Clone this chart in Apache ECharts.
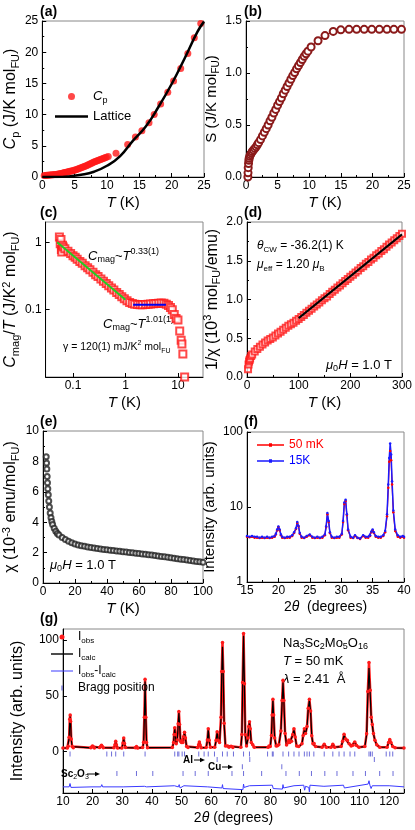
<!DOCTYPE html>
<html>
<head>
<meta charset="utf-8">
<script src="https://cdn.jsdelivr.net/npm/echarts@6.0.0/dist/echarts.min.js"></script>
<style>
html, body { margin: 0; padding: 0; background: #fff; }
#chart { width: 415px; height: 830px; }
</style>
</head>
<body>
<div id="chart"></div>
<script>
// ---------- data ----------
// (a) specific heat and lattice fit
const cpT = [0.3, 0.5, 0.7, 0.9, 1.1, 1.3, 1.5, 1.7, 1.9, 2.1, 2.3, 2.5, 2.7, 2.9, 3.1, 3.3, 3.5, 3.7, 3.9, 4.1,
    4.3, 4.5, 4.7, 4.9, 5.1, 5.3, 5.5, 5.7, 5.9, 6.1, 6.3, 6.5, 6.7, 6.9, 7.1, 7.3, 7.5, 7.7, 7.9, 8.1,
    8.3, 8.5, 8.7, 8.9, 9.1, 9.3, 9.5, 9.7, 9.9, 10.2,
    11.4, 13.2, 14.4, 15.4, 16.5, 17.3, 18.3, 19.4, 20.3, 21.4, 22.5, 23.5, 24.5]
const cpVal = [0.25, 0.26, 0.27, 0.29, 0.31, 0.33, 0.35, 0.37, 0.39, 0.42, 0.46, 0.5, 0.54, 0.58, 0.62, 0.67, 0.72, 0.77, 0.82, 0.87,
    0.92, 0.97, 1.02, 1.07, 1.13, 1.21, 1.29, 1.37, 1.45, 1.54, 1.62, 1.7, 1.78, 1.86, 1.95, 2.05, 2.15, 2.25, 2.35, 2.44,
    2.52, 2.6, 2.68, 2.76, 2.84, 2.92, 3.0, 3.08, 3.16, 3.28,
    3.8, 5.2, 6.4, 7.4, 8.7, 10.0, 11.7, 13.6, 15.4, 17.4, 19.8, 22.3, 24.6]
const latticeT = [0, 2, 4, 6, 8, 10, 12, 14, 16, 18, 20, 22, 24, 25]
const latticeVal = [0, 0.01, 0.1, 0.35, 0.85, 1.8, 3.3, 5.8, 8.1, 11.3, 14.9, 19.0, 23.3, 24.9]

// (b) entropy
const sT = [0.3, 0.32, 0.35, 0.4, 0.45, 0.5, 0.6, 0.7, 0.85, 1.0, 1.2, 1.4, 1.6, 1.8, 2.0, 2.3, 2.6, 2.9, 3.2, 3.5,
    3.8, 4.1, 4.4, 4.7, 5.0, 5.3, 5.6, 5.9, 6.2, 6.5, 6.8, 7.1, 7.4, 7.7, 8.0, 8.3, 8.6, 8.9, 9.2, 9.5,
    9.8, 10.3, 11.4, 12.5, 13.8, 15.0, 16.3, 17.5, 18.7, 19.9, 21.1, 22.3, 23.4, 24.6]
const sVal = [0.0, 0.04, 0.09, 0.13, 0.16, 0.18, 0.2, 0.215, 0.23, 0.245, 0.26, 0.275, 0.29, 0.31, 0.33, 0.36, 0.395, 0.43, 0.465, 0.5,
    0.54, 0.575, 0.615, 0.65, 0.69, 0.725, 0.76, 0.8, 0.835, 0.87, 0.905, 0.94, 0.975, 1.005, 1.04, 1.07, 1.1, 1.13, 1.16, 1.185,
    1.21, 1.25, 1.31, 1.36, 1.40, 1.415, 1.42, 1.42, 1.42, 1.42, 1.42, 1.42, 1.42, 1.42]

// (c) magnetic specific heat / T, log-log
const cmT = [0.055, 0.057, 0.059, 0.06, 0.061, 0.063, 0.065, 0.07, 0.08, 0.09, 0.1, 0.11, 0.12, 0.135, 0.15, 0.17,
    0.19, 0.21, 0.24, 0.27, 0.3, 0.34, 0.38, 0.43, 0.48, 0.54, 0.6, 0.68, 0.76, 0.85, 0.95, 1.07, 1.2, 1.35, 1.5,
    1.7, 1.9, 2.1, 2.4, 2.7, 3.0, 3.4, 3.8, 4.3, 4.8, 5.4, 6.0, 6.6, 7.2, 7.8, 8.5, 9.2, 10.0, 10.8, 11.5, 11.9, 12.4, 13.4]
const cmVal = [1.2, 0.95, 1.1, 0.78, 0.72, 0.9, 0.85, 0.8, 0.735, 0.68, 0.63, 0.6, 0.56, 0.52, 0.49, 0.45,
    0.42, 0.39, 0.36, 0.33, 0.31, 0.285, 0.265, 0.245, 0.227, 0.21, 0.196, 0.18, 0.168, 0.156, 0.145, 0.135, 0.128, 0.123, 0.12,
    0.119, 0.118, 0.118, 0.119, 0.12, 0.121, 0.122, 0.123, 0.124, 0.125, 0.124, 0.12, 0.115, 0.108, 0.1, 0.085, 0.074, 0.07, 0.048, 0.035, 0.031, 0.022, 0.01]
const lowFitT = [0.05, 1.0]
const lowFitVal = [1.0, 0.14]
const midFitT = [1.4, 5.9]
const midFitVal = [0.118, 0.118]

// (d) inverse susceptibility
const invT = [2, 3, 4, 5, 6, 8, 10, 15, 20, 25, 30, 35, 40, 45, 50, 55, 60, 65, 70, 75, 80, 85, 90, 95, 100,
    105, 110, 115, 120, 125, 130, 135, 140, 145, 150, 155, 160, 165, 170, 175, 180, 185, 190, 195, 200,
    205, 210, 215, 220, 225, 230, 235, 240, 245, 250, 255, 260, 265, 270, 275, 280, 285, 290, 295, 300]
const invVal = [0.10, 0.16, 0.20, 0.22, 0.24, 0.27, 0.29, 0.33, 0.36, 0.39, 0.42, 0.445, 0.47, 0.49, 0.51, 0.535, 0.56, 0.585, 0.61, 0.635, 0.66, 0.68, 0.70, 0.725, 0.75,
    0.775, 0.80, 0.83, 0.855, 0.88, 0.91, 0.935, 0.96, 0.99, 1.015, 1.04, 1.07, 1.10, 1.125, 1.155, 1.18, 1.21, 1.24, 1.265, 1.295,
    1.32, 1.35, 1.375, 1.405, 1.43, 1.46, 1.485, 1.515, 1.54, 1.57, 1.595, 1.625, 1.65, 1.68, 1.71, 1.735, 1.765, 1.79, 1.82, 1.85]
const cwFitT = [100, 300]
const cwFitVal = [0.76, 1.84]

// (e) susceptibility
const chiT = [2, 2.2, 2.4, 2.6, 2.8, 3.0, 3.3, 3.6, 4.0, 4.5, 5, 5.5, 6, 7, 8, 9, 10, 12, 14, 16, 18, 20, 22, 24, 26, 28, 30,
    32, 34, 36, 38, 40, 42, 44, 46, 48, 50, 52, 54, 56, 58, 60, 62, 64, 66, 68, 70, 72, 74, 76, 78, 80,
    82, 84, 86, 88, 90, 92, 94, 96, 98, 100]
const chiVal = [8.3, 7.9, 7.5, 7.0, 6.6, 6.2, 5.8, 5.4, 5.0, 4.6, 4.3, 4.05, 3.85, 3.6, 3.4, 3.25, 3.15, 3.0, 2.86, 2.74, 2.64, 2.56, 2.5, 2.45, 2.41, 2.37, 2.33,
    2.3, 2.27, 2.24, 2.21, 2.19, 2.16, 2.14, 2.11, 2.09, 2.06, 2.04, 2.01, 1.99, 1.96, 1.94, 1.91, 1.89, 1.86, 1.84, 1.81, 1.78, 1.75, 1.72, 1.69, 1.66,
    1.63, 1.6, 1.57, 1.54, 1.51, 1.48, 1.45, 1.42, 1.39, 1.36]

// (f) low-angle diffraction, two temperatures
const fTheta = [15, 15.4, 15.8, 16.2, 16.6, 17, 17.4, 17.8, 18.2, 18.6, 19, 19.4, 19.6, 19.8, 20.0, 20.2, 20.4, 20.6, 21, 21.4,
    21.8, 22.2, 22.5, 22.8, 23.0, 23.2, 23.4, 23.7, 24.1, 24.5, 25.0, 25.4, 25.8, 26.2, 26.6, 27.0, 27.4, 27.6, 27.8, 28.0,
    28.2, 28.5, 28.9, 29.3, 29.7, 30.1, 30.3, 30.5, 30.7, 30.9, 31.1, 31.5, 31.9, 32.2, 32.6, 33.0, 33.5, 33.9, 34.3, 34.6,
    34.8, 35.0, 35.2, 35.5, 35.9, 36.3, 36.7, 37.0, 37.3, 37.5, 37.65, 37.8, 37.95, 38.1, 38.3, 38.6, 39.0, 39.4, 39.8, 40.0]
const f15K = [4.1, 4.0, 4.1, 4.0, 4.0, 3.9, 4.0, 3.9, 4.0, 3.9, 4.0, 4.1, 4.4, 5.0, 5.5, 5.0, 4.3, 4.0, 3.9, 4.0,
    4.0, 4.2, 4.6, 5.2, 6.3, 5.6, 4.5, 4.0, 3.9, 4.1, 4.3, 4.0, 3.9, 4.0, 3.9, 4.0, 4.3, 5.5, 8.3, 6.5,
    4.6, 4.0, 3.9, 4.0, 4.0, 4.4, 6.5, 11.5, 12.5, 8.0, 5.0, 4.0, 3.9, 4.2, 3.9, 3.8, 4.2, 4.0, 4.0, 4.2,
    4.7, 5.0, 4.6, 4.1, 4.0, 4.0, 4.2, 4.8, 8.0, 20, 45, 70, 50, 22, 9, 5, 4.2, 4.0, 4.1, 4.0]
const f50mK = [4.0, 3.95, 4.0, 3.9, 3.9, 3.85, 3.9, 3.85, 3.9, 3.85, 3.9, 4.0, 4.3, 4.9, 5.4, 4.9, 4.2, 3.9, 3.85, 3.9,
    3.9, 4.1, 4.5, 5.1, 6.1, 5.5, 4.4, 3.9, 3.85, 4.0, 4.2, 3.9, 3.85, 3.9, 3.85, 3.9, 4.2, 5.4, 8.0, 6.3,
    4.5, 3.9, 3.85, 3.9, 3.9, 4.3, 6.3, 11, 12, 7.8, 4.9, 3.9, 3.85, 4.1, 3.85, 3.75, 4.1, 3.9, 3.9, 4.1,
    4.6, 4.9, 4.5, 4.0, 3.9, 3.9, 4.1, 4.6, 7.5, 18, 40, 56, 42, 20, 8.5, 4.8, 4.0, 3.9, 4.0, 3.9]

// (g) Rietveld refinement at 50 mK
const gTheta = [10, 11.5, 11.8, 12.1, 12.3, 12.45, 12.6, 12.8, 13.1, 13.5,
    19.4, 19.8, 20.0, 20.2, 20.6,
    22.4, 22.8, 23.0, 23.2, 23.6,
    27.2, 27.55, 27.8, 28.05, 28.4,
    29.9, 30.25, 30.5, 30.75, 31.1,
    34.4, 34.8, 35.2,
    36.9, 37.2, 37.45, 37.7, 37.95, 38.2, 38.5,
    46.9, 47.3, 47.5, 47.7, 47.9, 48.2, 48.55, 48.85, 49.1, 49.35, 49.65, 49.95, 50.2, 50.45, 50.7, 51.0, 51.3, 51.7, 52.2,
    55.4, 55.75, 56.0, 56.25, 56.6,
    58.3, 58.7, 59.0, 59.3, 59.7,
    61.2, 61.65, 62.0, 62.35, 62.8, 63.3, 63.55, 63.8, 64.05, 64.35, 64.8, 65.5, 66.0, 66.7, 67.3,
    70.0, 70.35, 70.6, 70.9, 71.2, 71.5, 71.9, 72.4, 72.65, 72.9, 73.15, 73.5, 74.0, 74.5,
    79.2, 79.5, 79.9, 80.3, 80.55, 80.8, 81.05, 81.4, 81.9, 82.3, 82.8, 83.5, 83.9, 84.2, 84.5, 84.9, 85.4, 85.9, 86.2, 86.5, 87.1, 87.5, 87.9, 88.3, 88.8, 89.5,
    90.6, 91.0, 91.4, 91.8, 92.3, 92.7, 93.1, 93.5, 93.9, 94.3, 94.7, 95.2,
    97.4, 98.1, 98.8, 100.4, 101.0, 101.6,
    103.8, 104.3, 104.8, 105.3, 105.9, 106.5, 107.2, 107.8, 108.4, 109.0, 109.8,
    111.8, 112.4, 112.8, 113.2, 113.6, 113.95, 114.3, 114.7, 115.2, 115.8, 116.8,
    119.3, 119.8, 120.2, 120.6, 121.2, 122, 125]
const gCalc = [3.3, 3.4, 4.5, 12, 28, 32, 26, 11, 4.5, 3.5,
    3.5, 4.4, 5.0, 4.4, 3.5,
    3.6, 4.8, 5.5, 4.8, 3.6,
    3.5, 6, 9, 6, 3.5,
    3.5, 7.5, 12, 7.5, 3.6,
    3.5, 4.5, 3.5,
    3.6, 8, 30, 63, 30, 8, 3.7,
    3.7, 8, 15, 21, 15, 7, 10, 24, 35, 24, 9, 8, 10, 8, 13, 17, 12, 4.5, 3.6,
    3.6, 6, 8.5, 6, 3.6,
    3.7, 10, 20, 10, 3.8,
    3.8, 10, 17.5, 10, 8, 30, 70, 94, 70, 25, 5, 5, 4, 4.6, 3.8,
    3.8, 15, 60, 104, 60, 15, 5, 12, 22, 26, 20, 8, 6, 4,
    3.9, 5, 4.5, 14, 32, 46, 32, 12, 5, 5.2, 6, 18, 45, 62, 45, 16, 6, 8, 10, 8, 9, 15, 20, 13, 5, 4.5,
    7, 14, 19.5, 16, 22, 38, 46, 36, 14, 7, 7, 4.5,
    4, 6.5, 4, 4, 6.5, 4,
    4.5, 9, 15, 11, 10, 7, 5, 5.5, 8.5, 5.5, 4,
    4.5, 15, 50, 75, 52, 30, 24, 16, 10, 6, 4,
    4, 8, 10.5, 8, 4.5, 3.5, 3.2]
const gObs = [3.4, 3.3, 4.8, 13, 29, 33, 27, 11.5, 4.7, 3.6,
    3.6, 4.6, 5.2, 4.5, 3.4,
    3.7, 5.0, 5.8, 5.0, 3.5,
    3.6, 6.2, 9.3, 6.1, 3.4,
    3.4, 7.8, 12.3, 7.4, 3.7,
    3.6, 4.7, 3.4,
    3.7, 8.5, 31, 65, 31, 8.3, 3.6,
    3.8, 8.3, 15.5, 21.5, 15.2, 7.2, 10.5, 25, 36, 24.5, 9.3, 8.2, 10.4, 8.3, 13.4, 17.5, 12.2, 4.6, 3.7,
    3.7, 6.2, 8.8, 6.1, 3.5,
    3.8, 10.4, 20.6, 10.2, 3.9,
    3.9, 10.3, 18, 10.2, 8.2, 31, 72, 98, 72, 25.5, 5.2, 5.2, 4.1, 4.8, 3.7,
    3.9, 15.5, 62, 106, 61, 15.3, 5.2, 12.4, 22.6, 26.8, 20.5, 8.2, 6.2, 4.1,
    4.0, 5.2, 4.6, 14.5, 33, 47, 33, 12.3, 5.1, 5.4, 6.2, 18.5, 46, 64, 46, 16.4, 6.1, 8.3, 10.4, 8.2, 9.3, 15.5, 20.6, 13.3, 5.2, 4.6,
    7.2, 14.5, 20.5, 16.3, 22.5, 39, 47, 36.5, 14.3, 7.2, 7.3, 4.6,
    4.1, 6.8, 4.1, 3.9, 6.7, 4.1,
    4.6, 9.3, 15.6, 11.3, 10.3, 7.2, 5.1, 5.7, 8.8, 5.6, 4.1,
    4.6, 16, 54, 80, 55, 31, 24.5, 16.3, 10.3, 6.2, 4.1,
    4.1, 8.3, 10.9, 8.2, 4.6, 3.6, 3.3]
const diffTheta = [10, 12.1, 12.4, 12.7, 13.0, 19.8, 20.1, 20.4, 22.8, 23.1, 23.4, 30.3, 30.6, 37.5, 37.7, 37.9, 38.2,
    47.6, 47.9, 48.9, 49.2, 49.5, 50.8, 51.2, 58.8, 59.1, 59.4, 63.6, 63.8, 64.0, 64.3, 70.7, 70.9, 71.1, 71.4,
    72.9, 73.2, 80.6, 80.9, 81.2, 84.0, 84.2, 84.4, 84.7, 87.9, 88.2, 91.2, 91.5, 91.8, 92.9, 93.1, 93.3, 93.6,
    98.0, 98.3, 104.6, 104.9, 105.3, 112.9, 113.2, 113.5, 113.9, 114.3, 114.8, 120.0, 120.3, 120.6, 125]
const diffVal = [-31.5, -31.5, -28.5, -32, -31.5, -31.5, -30, -31.5, -31.5, -29.5, -31.5, -31.5, -30.5, -31, -30, -32.5, -31.5,
    -30.5, -32, -31.5, -29.5, -32.5, -30.5, -31.5, -31.5, -30, -32, -32.5, -29.5, -33, -31.5, -34, -29, -32, -31.5,
    -30.5, -32, -30, -33, -31.5, -33.5, -29.5, -32.5, -31.5, -30.5, -32, -30, -34.5, -31, -32, -36, -30, -31.5,
    -31, -32, -30, -32.5, -31.5, -29, -26, -30, -33, -30.5, -32, -30.5, -32, -31.5, -31.5]
const braggMain = [12.4, 24.8, 26.4, 27.8, 30.5, 37.7, 47.7, 48.7, 49.1, 50.2, 51.0, 55.8, 57.6, 59.0, 61.1, 63.8,
    65.4, 67.5, 70.9, 72.9, 79.0, 80.6, 80.9, 84.2, 86.1, 87.9, 89.6, 91.4, 92.3, 93.1, 94.6, 98.1, 101.0,
    103.1, 104.8, 106.8, 108.4, 113.2, 113.7, 114.3, 119.0, 120.2, 121.2]
const braggAl = [62.0, 73.0, 115.0]
const braggCu = [70.5, 83.8]
const braggSc2O3 = [28.2, 34.8, 40.3, 50.5, 54.6, 59.0, 67.0, 70.9, 77.0, 85.2, 89.7, 93.8, 98.3, 102.4, 107.8, 112.0, 116.8, 121.3]
// vertical offsets of the tick rows under the pattern
const braggRowY = { main: -2, Al: -7, Cu: -13.5, Sc2O3: -19.5 }

// ---------- helpers ----------
const FONT = 'Liberation Sans, Arial, Helvetica, sans-serif'
const zip = (xs, ys) => xs.map((x, i) => [x, ys[i]])
const rows = (xs, y) => xs.map((x) => [x, y])

const rich = (size) => {
    const s = Math.round(size * 0.68)
    return {
        i: { fontFamily: FONT, fontSize: size, fontStyle: 'italic', lineHeight: size + 4 },
        b: { fontFamily: FONT, fontSize: size, fontWeight: 'bold', lineHeight: size + 4 },
        sub: { fontFamily: FONT, fontSize: s, lineHeight: s + 1, verticalAlign: 'bottom' },
        sup: { fontFamily: FONT, fontSize: s, lineHeight: s + 1, verticalAlign: 'top' }
    }
}
const titleStyle = (size) => ({
    color: '#000',
    fontFamily: FONT,
    fontSize: size,
    lineHeight: size + 4,
    rich: rich(size)
})

const isObj = (v) => v && typeof v === 'object' && !Array.isArray(v)
const merge = (a, b) => {
    const out = { ...a }
    Object.keys(b || {}).forEach((k) => {
        out[k] = isObj(a[k]) && isObj(b[k]) ? merge(a[k], b[k]) : b[k]
    })
    return out
}

const baseAxis = {
    type: 'value',
    nameLocation: 'middle',
    axisLine: { show: true, onZero: false, lineStyle: { color: '#000', width: 1 } },
    axisTick: { show: true, inside: true, length: 4, lineStyle: { color: '#000' } },
    minorTick: { show: true, splitNumber: 2, length: 2, lineStyle: { color: '#000' } },
    axisLabel: { color: '#000', fontFamily: FONT, fontSize: 12, margin: 4 },
    splitLine: { show: false },
    minorSplitLine: { show: false }
}
const xAx = (g, o) => merge(merge(baseAxis, { gridIndex: g, nameGap: 12, nameTextStyle: titleStyle(15), axisLabel: { margin: 3 } }), o)
const yAx = (g, o) => merge(merge(baseAxis, { gridIndex: g, nameGap: 20, nameTextStyle: titleStyle(16) }), o)
const logAx = { type: 'log', logBase: 10, minorTick: { show: false }, axisLabel: { showMinLabel: false, showMaxLabel: false } }
const oneDec = (v) => v.toFixed(1)

const gridBox = (left, top, width, height) => ({
    left, top, width, height,
    show: true, borderColor: '#888', borderWidth: 1, backgroundColor: 'transparent'
})

const label = (x, y, text, size, extra) => ({
    type: 'text',
    x, y,
    silent: true,
    style: merge({
        text,
        fill: '#000',
        fontFamily: FONT,
        fontSize: size,
        lineHeight: size + 4,
        align: 'left',
        verticalAlign: 'middle',
        textAlign: 'left',
        textVerticalAlign: 'middle',
        rich: rich(size)
    }, extra || {})
})
const arrow = (x1, x2, y) => [
    { type: 'line', silent: true, shape: { x1, y1: y, x2: x2 - 3, y2: y }, style: { stroke: '#000', lineWidth: 1 } },
    { type: 'polygon', silent: true, shape: { points: [[x2, y], [x2 - 5, y - 2.2], [x2 - 5, y + 2.2]] }, style: { fill: '#000' } }
]

const legendNames = {
    Cp: '{i|C}{sub|p}',
    Iobs: 'I{sub|obs}',
    Icalc: 'I{sub|calc}',
    'Iobs-Icalc': 'I{sub|obs}-I{sub|calc}'
}
const legendFmt = (n) => legendNames[n] || n

const RED = '#ff1a1a'
const BRAGG = '#4a4ad0'
const braggSeries = (name, xs, y) => ({
    name,
    type: 'scatter',
    xAxisIndex: 6, yAxisIndex: 6,
    symbol: 'rect',
    symbolSize: [1, 5],
    itemStyle: { color: BRAGG },
    data: rows(xs, y)
})

const option = {
    animation: false,
    backgroundColor: '#fff',
    textStyle: { fontFamily: FONT },
    grid: [
        gridBox(42, 21, 162, 156),
        gridBox(246, 21, 158, 156),
        gridBox(42, 222, 161, 155),
        gridBox(247, 222, 157, 155),
        gridBox(43, 431, 160, 152),
        gridBox(247, 432, 157, 150),
        gridBox(43, 629, 361, 164)
    ],
    xAxis: [
        xAx(0, { min: 0, max: 25, interval: 5, name: '{i|T} (K)' }),
        xAx(1, { min: 0, max: 25, interval: 5, name: '{i|T} (K)' }),
        xAx(2, merge(logAx, { min: 0.03, max: 30, name: '{i|T} (K)' })),
        xAx(3, { min: 0, max: 300, interval: 100, name: '{i|T} (K)' }),
        xAx(4, { min: 0, max: 100, interval: 20, name: '{i|T} (K)' }),
        xAx(5, { min: 15, max: 40, interval: 5, name: '2{i|θ}  (degrees)', nameTextStyle: titleStyle(14) }),
        xAx(6, { min: 10, max: 125, interval: 10, name: '2{i|θ} (degrees)', nameTextStyle: titleStyle(14), axisLabel: { showMaxLabel: false } })
    ],
    yAxis: [
        yAx(0, { min: 0, max: 25, interval: 5, name: '{i|C}{sub|p} (J/K mol{sub|FU})' }),
        yAx(1, { min: 0, max: 1.5, interval: 0.5, name: 'S (J/K mol{sub|FU})', nameTextStyle: titleStyle(15), axisLabel: { formatter: oneDec } }),
        yAx(2, merge(logAx, { min: 0.01, max: 2, name: '{i|C}{sub|mag}/{i|T} (J/K{sup|2} mol{sub|FU})' })),
        yAx(3, { min: 0, max: 2, interval: 0.5, name: '1/χ (10{sup|3} mol{sub|FU}/emu)', axisLabel: { formatter: oneDec } }),
        yAx(4, { min: 0, max: 10, interval: 2, name: 'χ (10{sup|-3} emu/mol{sub|FU})', nameGap: 22 }),
        yAx(5, merge(logAx, {
            min: 1, max: 100, name: 'Intensity (arb. units)', nameGap: 25, nameTextStyle: titleStyle(15),
            axisLabel: { showMinLabel: true, showMaxLabel: true }
        })),
        yAx(6, {
            min: -37, max: 110, name: 'Intensity (arb. units)', nameGap: 22,
            axisLabel: { customValues: [0, 50, 100] },
            axisTick: { customValues: [0, 50, 100] },
            minorTick: { show: false }
        })
    ],
    legend: [
        {
            left: 55, top: 88, orient: 'vertical', padding: 0, itemGap: 3, itemWidth: 33, itemHeight: 7,
            selectedMode: false, textStyle: titleStyle(13), formatter: legendFmt,
            data: [{ name: 'Cp', icon: 'circle' }, { name: 'Lattice', icon: 'path://M0,0h33v2.6h-33z' }]
        },
        {
            left: 257, top: 437, orient: 'vertical', padding: 0, itemGap: 0, itemWidth: 27, itemHeight: 8,
            selectedMode: false, textStyle: titleStyle(12),
            data: [
                { name: '50 mK', icon: 'path://M0,4h27v1.3h-27z M12,3h3v3.3h-3z', textStyle: { color: '#ff0000' } },
                { name: '15K', icon: 'path://M0,4h27v1.3h-27z M12,3h3v3.3h-3z', textStyle: { color: '#0000ff' } }
            ]
        },
        {
            left: 51, top: 629, orient: 'vertical', padding: 0, itemGap: 1, itemWidth: 22, itemHeight: 5,
            selectedMode: false, textStyle: titleStyle(12), formatter: legendFmt,
            data: [
                { name: 'Iobs', icon: 'circle' },
                { name: 'Icalc', icon: 'path://M0,0h22v1.4h-22z' },
                { name: 'Iobs-Icalc', icon: 'path://M0,0h22v1h-22z' },
                { name: 'Bragg position', icon: 'path://M0,0h2v8h-2z' }
            ]
        }
    ],
    series: [
        // (a)
        {
            name: 'Cp', type: 'scatter', xAxisIndex: 0, yAxisIndex: 0,
            symbol: 'circle', symbolSize: 7, itemStyle: { color: RED },
            data: zip(cpT, cpVal)
        },
        {
            name: 'Lattice', type: 'line', xAxisIndex: 0, yAxisIndex: 0,
            smooth: true, symbol: 'none', lineStyle: { color: '#000', width: 2.5 }, itemStyle: { color: '#000' },
            data: zip(latticeT, latticeVal)
        },
        // (b)
        {
            name: 'S', type: 'line', xAxisIndex: 1, yAxisIndex: 1,
            symbol: 'emptyCircle', symbolSize: 7,
            lineStyle: { color: '#8b1a1a', width: 1.2 }, itemStyle: { color: '#8b1a1a', borderWidth: 1 },
            data: zip(sT, sVal)
        },
        // (c)
        {
            name: 'Cmag/T', type: 'scatter', xAxisIndex: 2, yAxisIndex: 2,
            symbol: 'emptyRect', symbolSize: 7, itemStyle: { color: RED, borderWidth: 1 },
            data: zip(cmT, cmVal)
        },
        {
            name: 'low-T fit', type: 'line', xAxisIndex: 2, yAxisIndex: 2, symbol: 'none',
            lineStyle: { color: '#22cc22', width: 2 }, data: zip(lowFitT, lowFitVal)
        },
        {
            name: 'linear-T fit', type: 'line', xAxisIndex: 2, yAxisIndex: 2, symbol: 'none',
            lineStyle: { color: '#0000ee', width: 2 }, data: zip(midFitT, midFitVal)
        },
        // (d)
        {
            name: '1/chi', type: 'scatter', xAxisIndex: 3, yAxisIndex: 3,
            symbol: 'emptyRect', symbolSize: 6, itemStyle: { color: RED, borderWidth: 0.8 },
            data: zip(invT, invVal)
        },
        {
            name: 'CW fit', type: 'line', xAxisIndex: 3, yAxisIndex: 3, symbol: 'none',
            lineStyle: { color: '#000', width: 2 }, data: zip(cwFitT, cwFitVal)
        },
        // (e)
        {
            name: 'chi', type: 'scatter', xAxisIndex: 4, yAxisIndex: 4,
            symbol: 'emptyCircle', symbolSize: 5, itemStyle: { color: '#222', borderWidth: 0.8 },
            data: zip(chiT, chiVal)
        },
        // (f)
        {
            name: '50 mK', type: 'line', xAxisIndex: 5, yAxisIndex: 5,
            symbol: 'circle', symbolSize: 2.5,
            lineStyle: { color: '#ff0000', width: 1.2 }, itemStyle: { color: '#ff0000' },
            data: zip(fTheta, f50mK)
        },
        {
            name: '15K', type: 'line', xAxisIndex: 5, yAxisIndex: 5,
            symbol: 'circle', symbolSize: 2.5,
            lineStyle: { color: '#1a1aff', width: 1.5 }, itemStyle: { color: '#1a1aff' },
            data: zip(fTheta, f15K)
        },
        // (g)
        {
            name: 'Iobs', type: 'line', xAxisIndex: 6, yAxisIndex: 6,
            symbol: 'circle', symbolSize: 3.5,
            lineStyle: { color: RED, width: 2.5 }, itemStyle: { color: RED },
            data: zip(gTheta, gObs)
        },
        {
            name: 'Icalc', type: 'line', xAxisIndex: 6, yAxisIndex: 6, symbol: 'none',
            lineStyle: { color: '#000', width: 1.2 }, itemStyle: { color: '#000' },
            data: zip(gTheta, gCalc)
        },
        {
            name: 'Iobs-Icalc', type: 'line', xAxisIndex: 6, yAxisIndex: 6, symbol: 'none',
            lineStyle: { color: '#3a3aff', width: 1 }, itemStyle: { color: '#3a3aff' },
            data: zip(diffTheta, diffVal)
        },
        braggSeries('Bragg position', braggMain, braggRowY.main),
        braggSeries('Al', braggAl, braggRowY.Al),
        braggSeries('Cu', braggCu, braggRowY.Cu),
        braggSeries('Sc2O3', braggSc2O3, braggRowY.Sc2O3)
    ],
    graphic: {
        elements: [
            label(40, 12, '(a)', 14, { fontWeight: 'bold' }),
            label(244, 12, '(b)', 14, { fontWeight: 'bold' }),
            label(40, 213, '(c)', 14, { fontWeight: 'bold' }),
            label(244, 213, '(d)', 14, { fontWeight: 'bold' }),
            label(40, 422, '(e)', 14, { fontWeight: 'bold' }),
            label(244, 422, '(f)', 14, { fontWeight: 'bold' }),
            label(40, 619, '(g)', 14, { fontWeight: 'bold' }),

            label(88, 256, '{i|C}{sub|mag}~{i|T}{sup|0.33(1)}', 13),
            label(103, 324, '{i|C}{sub|mag}~{i|T}{sup|1.01(1)}', 13),
            label(63, 347, 'γ = 120(1) mJ/K{sup|2} mol{sub|FU}', 10.5),

            label(257, 246, '{i|θ}{sub|CW} = -36.2(1) K', 12),
            label(257, 265, '{i|μ}{sub|eff} = 1.20 {i|μ}{sub|B}', 12),
            label(326, 365, '{i|μ}{sub|0}{i|H} = 1.0 T', 13),

            label(50, 565, '{i|μ}{sub|0}{i|H} = 1.0 T', 13),

            label(283, 643, 'Na{sub|3}Sc{sub|2}Mo{sub|5}O{sub|16}', 13),
            label(283, 661, '{i|T} = 50 mK', 13),
            label(283, 679, '{i|λ} = 2.41  Å', 13),

            label(183, 760, 'Al', 10, { fontWeight: 'bold' }),
            ...arrow(194, 205, 760),
            label(208, 767, 'Cu', 10, { fontWeight: 'bold' }),
            ...arrow(222, 233, 767),
            label(61, 774, 'Sc{sub|2}O{sub|3}', 10, { fontWeight: 'bold' }),
            ...arrow(87, 100, 774)
        ]
    }
}

const chart = echarts.init(document.getElementById('chart'), null, { renderer: 'canvas' })
chart.setOption(option)
</script>
</body>
</html>
